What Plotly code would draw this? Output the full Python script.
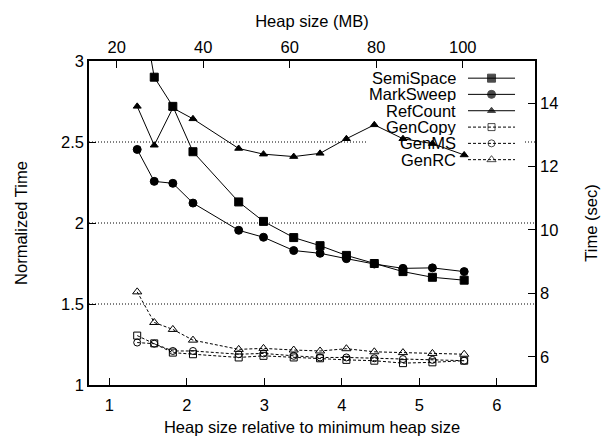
import plotly.graph_objects as go

# ---------------- data ----------------
x_rel = [1.36, 1.58, 1.82, 2.08, 2.67, 2.99, 3.38, 3.72, 4.06, 4.42, 4.79, 5.17, 5.58]

semispace = [3.50, 2.90, 2.72, 2.44, 2.13, 2.01, 1.91, 1.86, 1.80, 1.75, 1.70, 1.665, 1.647]
marksweep = [2.454, 2.257, 2.245, 2.123, 1.955, 1.912, 1.830, 1.813, 1.78, 1.747, 1.72, 1.723, 1.70]
refcount = [2.72, 2.48, 2.71, 2.643, 2.46, 2.425, 2.41, 2.43, 2.52, 2.606, 2.52, 2.49, 2.42]
gencopy = [1.305, 1.257, 1.20, 1.19, 1.17, 1.18, 1.17, 1.165, 1.155, 1.15, 1.135, 1.14, 1.15]
genms = [1.262, 1.255, 1.21, 1.21, 1.19, 1.195, 1.18, 1.17, 1.17, 1.165, 1.16, 1.155, 1.15]
genrc = [1.575, 1.386, 1.343, 1.277, 1.22, 1.226, 1.216, 1.21, 1.224, 1.205, 1.20, 1.195, 1.19]

series_names = ["SemiSpace", "MarkSweep", "RefCount", "GenCopy", "GenMS", "GenRC"]
series_values = [semispace, marksweep, refcount, gencopy, genms, genrc]

x_ticks = [1, 2, 3, 4, 5, 6]
y_ticks = [1, 1.5, 2, 2.5, 3]
mb_ticks = [20, 40, 60, 80, 100]
sec_ticks = [6, 8, 10, 12, 14]
grid_vals = [1.5, 2, 2.5]

# ---------------- styles ----------------
FONT = "Liberation Sans, Arial, Helvetica, sans-serif"
FS = 16.5
styles = {
    "SemiSpace": dict(symbol="square", size=8, dash="solid"),
    "MarkSweep": dict(symbol="circle", size=8, dash="solid"),
    "RefCount": dict(symbol="triangle-up", size=7, dash="solid"),
    "GenCopy": dict(symbol="square-open", size=7, dash="3px,2px"),
    "GenMS": dict(symbol="circle-open", size=7, dash="3px,2px"),
    "GenRC": dict(symbol="triangle-up-open", size=8, dash="3px,2px"),
}

fig = go.Figure()
for name, vals in zip(series_names, series_values):
    st = styles[name]
    fig.add_trace(go.Scatter(
        x=x_rel, y=vals, mode="lines+markers", name=name, showlegend=False,
        line=dict(color="black", width=1, dash=st["dash"]),
        marker=dict(symbol=st["symbol"], size=st["size"], color="black",
                    line=dict(color="black", width=1)),
    ))

# helper invisible trace so secondary axes render
fig.add_trace(go.Scatter(x=[50], y=[10], xaxis="x2", yaxis="y2", mode="markers",
                         marker=dict(opacity=0), hoverinfo="skip", showlegend=False))

# ---------------- custom gnuplot-like key ----------------
key_rows = [0.947, 0.897, 0.8465, 0.796, 0.7458, 0.6955]
kx0, kx1, ktext = 0.8498, 0.9552, 0.825
for name, ky in zip(series_names, key_rows):
    st = styles[name]
    fig.add_trace(go.Scatter(
        x=[kx0, (kx0 + kx1) / 2, kx1], y=[ky, ky, ky], xaxis="x3", yaxis="y3",
        mode="lines+markers", showlegend=False, hoverinfo="skip",
        line=dict(color="black", width=1, dash=st["dash"]),
        marker=dict(symbol=st["symbol"], size=[0, st["size"], 0], color="black",
                    line=dict(color="black", width=1)),
    ))
    fig.add_annotation(x=ktext, y=ky, xref="paper", yref="paper", text=name,
                       showarrow=False, xanchor="right", yanchor="middle",
                       height=16, borderpad=0,
                       font=dict(family=FONT, size=FS, color="black"))

# ---------------- grid lines (dotted, gap behind key) ----------------
shapes = []
for g in grid_vals:
    if g == 2.5:
        segs = [(0, 0.6226), (0.9776, 1)]
    else:
        segs = [(0, 1)]
    for a, b in segs:
        shapes.append(dict(type="line", xref="paper", yref="y", x0=a, x1=b, y0=g, y1=g,
                           line=dict(color="black", width=1, dash="1px,2px"), layer="below"))

axis_common = dict(showline=True, linecolor="black", linewidth=1.5, ticks="inside",
                   ticklen=7, tickwidth=1, tickcolor="black", showgrid=False,
                   zeroline=False, automargin=False,
                   tickfont=dict(family=FONT, size=FS, color="black"))

fig.update_layout(
    width=605, height=436,
    margin=dict(l=89, r=70, t=61, b=51),
    paper_bgcolor="white", plot_bgcolor="white",
    font=dict(family=FONT, size=FS, color="black"),
    showlegend=False,
    shapes=shapes,
    xaxis=dict(range=[0.738, 6.494], tickvals=x_ticks, anchor="y", ticklabelstandoff=4,
               title=dict(text="Heap size relative to minimum heap size", standoff=9,
                          font=dict(family=FONT, size=FS)),
               **axis_common),
    yaxis=dict(range=[1, 3], tickvals=y_ticks, anchor="x",
               title=dict(text="Normalized Time", standoff=29,
                          font=dict(family=FONT, size=FS)),
               **axis_common),
    xaxis2=dict(range=[13.6, 116.7], tickvals=mb_ticks, overlaying="x", side="top",
                anchor="y",
                title=dict(text="Heap size (MB)", standoff=6, font=dict(family=FONT, size=FS)),
                **axis_common),
    yaxis2=dict(range=[5.109, 15.33], tickvals=sec_ticks, overlaying="y", side="right",
                anchor="x",
                title=dict(text="Time (sec)", standoff=28, font=dict(family=FONT, size=FS)),
                **axis_common),
    xaxis3=dict(range=[0, 1], overlaying="x", visible=False, anchor="y3"),
    yaxis3=dict(range=[0, 1], overlaying="y", visible=False, anchor="x3"),
)

fig.write_html("out.html", config={"displayModeBar": False},
               post_script="document.body.style.margin='0';document.body.style.overflow='hidden';")
